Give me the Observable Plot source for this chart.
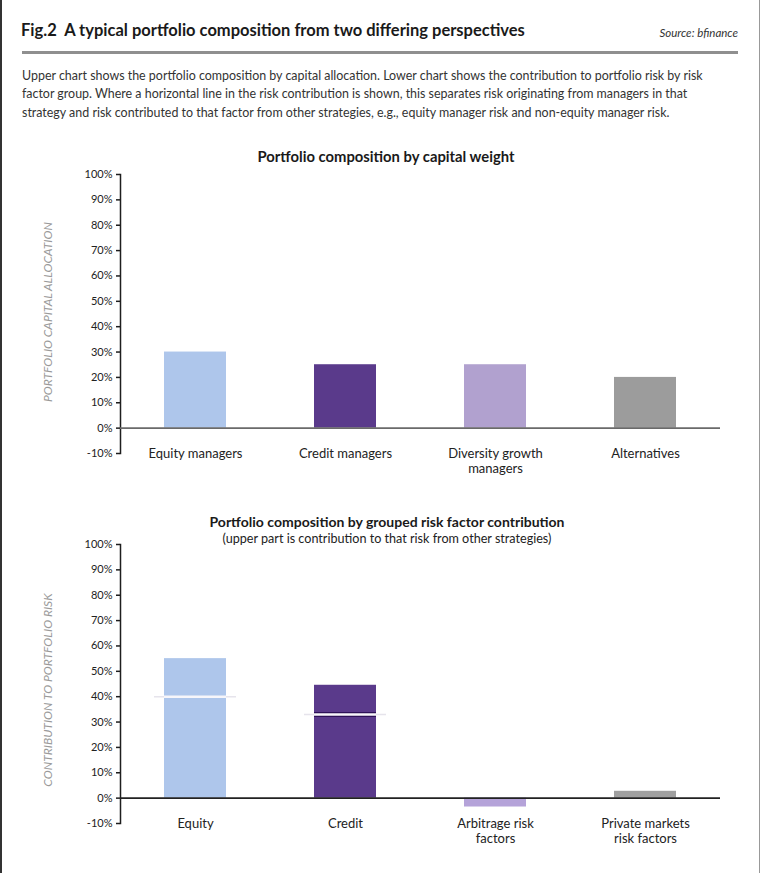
<!DOCTYPE html>
<html>
<head>
<meta charset="utf-8">
<script src="https://cdn.jsdelivr.net/npm/d3@7"></script>
<script src="https://cdn.jsdelivr.net/npm/@observablehq/plot@0.6"></script>
<style>
  body { margin: 0; background: #fff; }
  #fig { position: relative; width: 760px; height: 873px; overflow: hidden;
         font-family: Lato, "Open Sans", "DejaVu Sans", sans-serif; color: #1e1e1e; background: #fff; }
  .abs { position: absolute; white-space: nowrap; }
  .center { transform: translateX(-50%); text-align: center; }
  #title { left: 21px; top: 19px; font-size: 16.5px; line-height: 22px; font-weight: 700; color: #1a1a1a; }
  #source { right: 22px; top: 25px; font-size: 11.5px; line-height: 16px; font-style: italic; color: #333; }
  #rule { left: 22px; top: 51px; width: 716px; height: 3px; background: #8f8f8f; }
  #desc { left: 22px; top: 67px; font-size: 12.45px; line-height: 18.3px; color: #333; }
  .ctitle { font-weight: 700; color: #1a1a1a; line-height: 18px; }
  .csub { font-size: 12.6px; line-height: 16px; color: #222; }
  .chart { position: absolute; left: 0; }
  #borderL { left: 0; top: 0; width: 2px; height: 873px; background: #333; }
  #borderR { right: 0; top: 0; width: 1px; height: 873px; background: #999; }
</style>
</head>
<body>
<div id="fig">
  <div class="abs" id="borderL"></div>
  <div class="abs" id="borderR"></div>
  <div class="abs" id="title">Fig.2&nbsp; A typical portfolio composition from two differing perspectives</div>
  <div class="abs" id="source">Source: bfinance</div>
  <div class="abs" id="rule"></div>
  <div class="abs" id="desc">Upper chart shows the portfolio composition by capital allocation. Lower chart shows the contribution to portfolio risk by risk<br>factor group. Where a horizontal line in the risk contribution is shown, this separates risk originating from managers in that<br>strategy and risk contributed to that factor from other strategies, e.g., equity manager risk and non-equity manager risk.</div>

  <div class="abs center ctitle" style="left:386px; top:147px; font-size:14.8px;">Portfolio composition by capital weight</div>
  <div class="chart" id="chart1" style="top:160px;"></div>

  <div class="abs center ctitle" style="left:387px; top:513px; font-size:14px;">Portfolio composition by grouped risk factor contribution</div>
  <div class="abs center csub" style="left:387px; top:531px;">(upper part is contribution to that risk from other strategies)</div>
  <div class="chart" id="chart2" style="top:530px;"></div>
</div>

<script>
// Shared percentage axis
const yTicks = [-10, 0, 10, 20, 30, 40, 50, 60, 70, 80, 90, 100];

// Upper chart: capital allocation per manager group (%)
const capCategories = ["Equity managers", "Credit managers", "Diversity growth\nmanagers", "Alternatives"];
const capWeights = [30, 25, 25, 20];
const capColors = ["#aec6eb", "#5a3a8b", "#b1a1cf", "#9c9c9c"];
const capTitle = "PORTFOLIO CAPITAL ALLOCATION";

// Lower chart: contribution to portfolio risk by risk factor group (%)
const riskCategories = ["Equity", "Credit", "Arbitrage risk\nfactors", "Private markets\nrisk factors"];
const riskFromOwnManagers = [40, 33, -3.5, 2.7];
const riskFromOtherStrategies = [15, 11.5, 0, 0];
const riskColors = ["#aec6eb", "#5a3a8b", "#b5a3d9", "#a0a0a0"];
const riskTitle = "CONTRIBUTION TO PORTFOLIO RISK";

const FONT = "Lato, 'Open Sans', 'DejaVu Sans', sans-serif";

function baseOptions(categories) {
  return {
    width: 760,
    height: 333,
    marginLeft: 120,
    marginRight: 40,
    marginTop: 14,
    marginBottom: 40,
    style: { fontFamily: FONT, fontSize: "11px", color: "#222", background: "transparent", overflow: "visible" },
    x: { domain: categories, paddingInner: 0.587, paddingOuter: 0.2935, align: 0.5 },
    y: { domain: [-10, 100] }
  };
}

function yAxisMarks(title, dy) {
  return [
    Plot.frame({ anchor: "left", stroke: "#1e1e1e", strokeWidth: 1.5 }),
    Plot.axisY({ ticks: yTicks, tickFormat: d => d + "%", tickSize: 4, tickPadding: 4, label: null, fontSize: 11, stroke: "#1e1e1e", strokeWidth: 1.5 }),
    Plot.axisX({ tickSize: 0, tickPadding: 0, dy: -6, label: null, fontSize: 13, lineAnchor: "top", lineHeight: 1.15 }),
    Plot.text([title], { text: d => d, frameAnchor: "left", textAnchor: "middle", rotate: -90, dx: -72, dy, fill: "#9a9a9a", fontStyle: "italic", fontSize: 12 })
  ];
}

// Upper chart
const capData = capCategories.map((category, i) => ({ category, weight: capWeights[i], color: capColors[i] }));
const chart1 = Plot.plot({
  ...baseOptions(capCategories),
  marks: [
    ...yAxisMarks(capTitle, -2),
    Plot.barY(capData, { x: "category", y: "weight", fill: "color" }),
    Plot.ruleY([0], { stroke: "#6a6a6a", strokeWidth: 1.6 })
  ]
});
document.getElementById("chart1").append(chart1);

// Lower chart: stacked own-manager and other-strategy parts
const riskRows = riskCategories.map((category, i) => ({
  category,
  own: riskFromOwnManagers[i],
  other: riskFromOtherStrategies[i],
  color: riskColors[i]
}));
const riskParts = riskRows.flatMap(d => [
  { category: d.category, part: "own", value: d.own, color: d.color },
  { category: d.category, part: "other", value: d.other, color: d.color }
]).filter(d => d.value !== 0);
const split = riskRows.filter(d => d.other > 0);

const chart2 = Plot.plot({
  ...baseOptions(riskCategories),
  marks: [
    ...yAxisMarks(riskTitle, 6),
    Plot.barY(riskParts, { x: "category", y: "value", fill: "color" }),
    // faint extension of the divider beyond the bar
    Plot.ruleY(split, { x1: "category", x2: "category", y: "own", stroke: "#e6e4ec", strokeWidth: 1.5, insetLeft: -10, insetRight: -10 }),
    // darker edges around the divider on the dark bar
    Plot.ruleY(split.filter(d => d.category === "Credit"), { x1: "category", x2: "category", y: "own", stroke: "#2e1259", strokeWidth: 5 }),
    // divider between own-manager risk and risk from other strategies
    Plot.ruleY(split, { x1: "category", x2: "category", y: "own", stroke: "#f7f6fa", strokeWidth: 2.4 }),
    Plot.ruleY([0], { stroke: "#222", strokeWidth: 1.6 })
  ]
});
document.getElementById("chart2").append(chart2);
</script>
</body>
</html>
